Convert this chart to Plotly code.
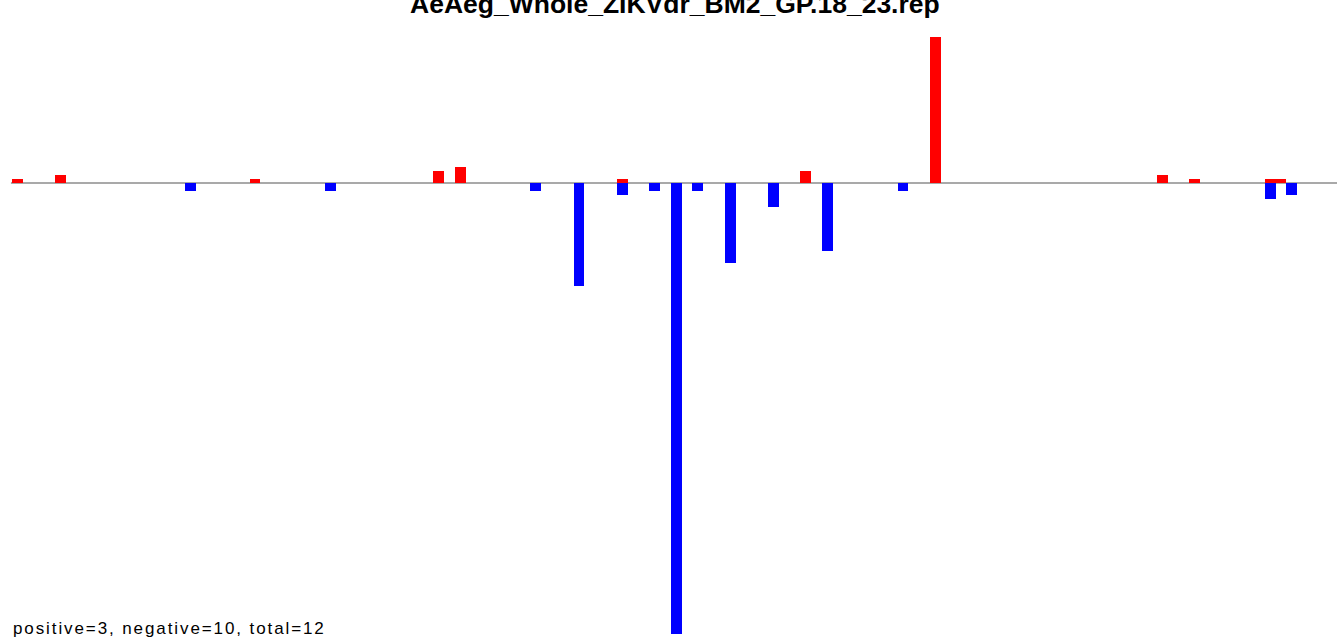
import plotly.graph_objects as go

# ---- data (slot index along the track, value in counts) ----
pos_index = [0, 4, 22, 39, 41, 56, 73, 85, 106, 109, 116, 117]
pos_values = [1, 2, 1, 3, 4, 1, 3, 36.5, 2, 1, 1, 1]

neg_index = [16, 29, 48, 52, 56, 59, 61, 63, 66, 70, 75, 82, 116, 118]
neg_values = [-2, -2, -2, -25.75, -3, -2, -112.75, -2, -20, -6, -17, -2, -4, -3]

title_text = "AeAeg_Whole_ZIKVdr_BM2_GP.18_23.rep"
footer_text = "positive=3, negative=10, total=12"

W, H = 1337, 640
ML = 12
slot_px = 10.8
base_px = 183
unit_px = 4

fig = go.Figure()
fig.add_trace(go.Bar(x=pos_index, y=pos_values, marker=dict(color="#FF0000", line=dict(width=0)),
                     width=1, showlegend=False, hoverinfo="x+y"))
fig.add_trace(go.Bar(x=neg_index, y=neg_values, marker=dict(color="#0000FF", line=dict(width=0)),
                     width=1, showlegend=False, hoverinfo="x+y"))

plot_w = W - ML
x_range = [-0.5, -0.5 + plot_w / slot_px]
y_top = base_px / unit_px
y_bot = -(H - base_px) / unit_px

fig.update_layout(
    width=W, height=H,
    margin=dict(l=ML, r=0, t=0, b=0, pad=0),
    paper_bgcolor="white", plot_bgcolor="white",
    barmode="overlay", bargap=0,
    xaxis=dict(range=x_range, visible=False, fixedrange=True),
    yaxis=dict(range=[y_bot, y_top], visible=False, fixedrange=True),
    shapes=[dict(type="line", xref="paper", yref="y", x0=-0.0008, x1=1, y0=0, y1=0,
                 line=dict(color="#8c8c8c", width=1.5), layer="below")],
    annotations=[
        dict(text="<b>" + title_text + "</b>", xref="paper", yref="paper", x=0.5, y=1 - 20.5 / H,
             xanchor="center", yanchor="bottom", showarrow=False, borderpad=0,
             font=dict(family="Liberation Sans, Arial, sans-serif", size=26.5, color="black")),
        dict(text=footer_text, xref="paper", yref="paper", x=0, y=1 - 639 / H,
             xanchor="left", yanchor="bottom", showarrow=False, borderpad=0, align="left",
             font=dict(family="Liberation Sans, Arial, sans-serif", size=17, color="black")),
    ],
)

post = """
document.body.style.margin = '0';
document.body.style.padding = '0';
var txts = document.querySelectorAll('.annotation-text');
txts.forEach(function(t){ if (t.textContent.indexOf('positive=') === 0) { t.style.letterSpacing = '1.9px'; } });
"""
fig.write_html("out.html", post_script=post, config={"displayModeBar": False})
